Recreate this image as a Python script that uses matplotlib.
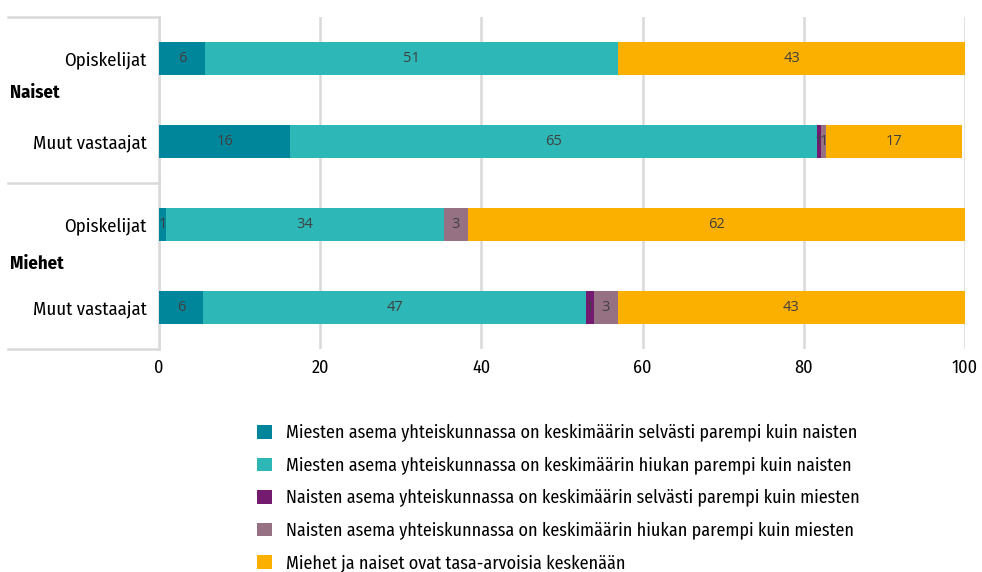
import matplotlib
matplotlib.use("Agg")
import matplotlib.pyplot as plt
from matplotlib.patches import Patch
from matplotlib.lines import Line2D

plt.rcParams['font.family'] = ['Fira Sans Condensed', 'PT Sans Narrow', 'Roboto Condensed',
                               'Sofia Sans Condensed', 'DejaVu Sans']

categories = ["Opiskelijat", "Muut vastaajat", "Opiskelijat", "Muut vastaajat"]
groups = ["Naiset", "Miehet"]
series_names = [
    "Miesten asema yhteiskunnassa on keskimäärin selvästi parempi kuin naisten",
    "Miesten asema yhteiskunnassa on keskimäärin hiukan parempi kuin naisten",
    "Naisten asema yhteiskunnassa on keskimäärin selvästi parempi kuin miesten",
    "Naisten asema yhteiskunnassa on keskimäärin hiukan parempi kuin miesten",
    "Miehet ja naiset ovat tasa-arvoisia keskenään",
]
s1 = [5.7, 16.3, 0.9, 5.5]
s2 = [51.3, 65.3, 34.4, 47.5]
s3 = [0.0, 0.5, 0.0, 1.0]
s4 = [0.0, 0.7, 3.0, 2.9]
s5 = [43.0, 16.8, 61.7, 43.1]
labels1 = ["6", "16", "1", "6"]
labels2 = ["51", "65", "34", "47"]
labels3 = ["", "1", "", "1"]
labels4 = ["", "1", "3", "3"]
labels5 = ["43", "17", "62", "43"]
xticks = [0, 20, 40, 60, 80, 100]

colors = ["#00869A", "#2DB7B6", "#741B70", "#957183", "#FBB000"]

fig = plt.figure(figsize=(9.82, 5.72), dpi=100)
ax = fig.add_axes([159/982, 1-349/572, 806/982, 332/572])

ys = list(range(len(categories)))
left = [0.0]*len(categories)
all_series = [s1, s2, s3, s4, s5]
all_labels = [labels1, labels2, labels3, labels4, labels5]
for vals, labs, col, name in zip(all_series, all_labels, colors, series_names):
    ax.barh(ys, vals, left=left, height=0.4, color=col, label=name, zorder=3)
    for y, v, l, lab in zip(ys, vals, left, labs):
        if lab:
            ax.text(l + v/2, y, lab, ha='center', va='center', fontsize=10.5,
                    color='#404040', family=['Open Sans', 'DejaVu Sans'], zorder=4)
    left = [a+b for a, b in zip(left, vals)]

ax.set_xlim(0, 100)
ax.set_ylim(3.5, -0.5)
ax.set_xticks(xticks)
ax.set_xticklabels([str(t) for t in xticks], fontsize=13)
ax.set_yticks(ys)
ax.set_yticklabels(categories, fontsize=13.5)
ax.tick_params(axis='both', length=0, colors='black')
ax.tick_params(axis='y', pad=9)
ax.tick_params(axis='x', pad=7)
ax.xaxis.grid(True, color='#d9d9d9', linewidth=1.8, zorder=0)
for sp in ['top', 'right', 'bottom']:
    ax.spines[sp].set_visible(False)
ax.spines['left'].set_color('#d9d9d9')
ax.spines['left'].set_linewidth(1.8)

# group separators
for yp in [17, 183, 349]:
    fig.add_artist(Line2D([8/982, 159/982], [1-yp/572, 1-yp/572], color='#d9d9d9', lw=1.8))
fig.text(10/982, 1-93/572, groups[0], fontsize=13.5, fontweight='bold', va='center', ha='left')
fig.text(10/982, 1-264/572, groups[1], fontsize=13.5, fontweight='bold', va='center', ha='left')

handles = [Patch(facecolor=c, edgecolor='none') for c in colors]
fig.legend(handles, series_names, loc='upper left', bbox_to_anchor=(250/982, 1-417/572),
           frameon=False, fontsize=13, handlelength=0.8, handleheight=0.8,
           handletextpad=0.8, labelspacing=0.8, borderaxespad=0)

fig.savefig("out.png", dpi=100)
